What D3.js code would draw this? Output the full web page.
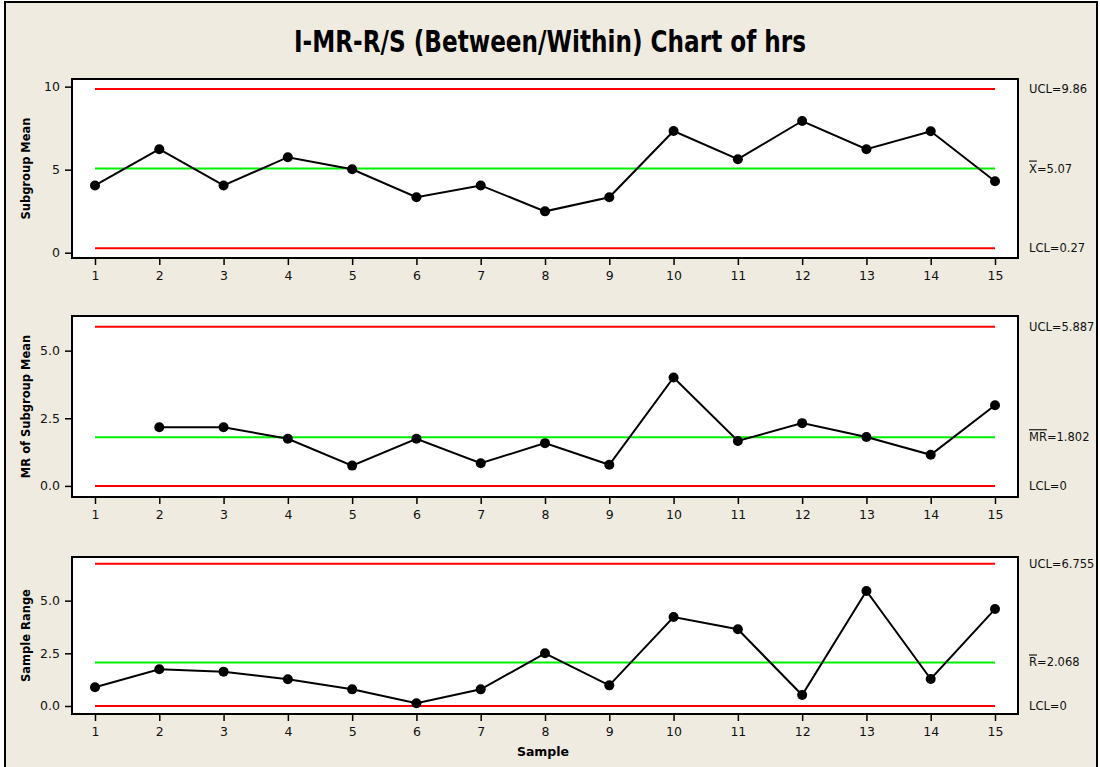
<!DOCTYPE html>
<html>
<head>
<meta charset="utf-8">
<script src="https://cdn.jsdelivr.net/npm/d3@7"></script>
<style>
  body { margin: 0; background: #fff; }
  svg { display: block; font-family: "DejaVu Sans", Verdana, sans-serif; }
  .tick line { stroke: #000; stroke-width: 1.5; }
  .ylab { font-size: 11.5px; font-weight: bold; }
  .lim { font-size: 11.5px; fill: #111; }
</style>
</head>
<body>
<svg width="1100" height="767"></svg>
<script>
var svg = d3.select("svg"),
    width = +svg.attr("width"),
    height = +svg.attr("height");

// sample numbers (x tick labels)
var samples = [1, 2, 3, 4, 5, 6, 7, 8, 9, 10, 11, 12, 13, 14, 15];

// values
var subgroupMean = [4.05, 6.23, 4.05, 5.75, 5.02, 3.34, 4.05, 2.49, 3.34, 7.33, 5.63, 7.93, 6.23, 7.31, 4.30];
var mrMean = [null, 2.17, 2.17, 1.74, 0.75, 1.74, 0.84, 1.58, 0.78, 4.01, 1.66, 2.32, 1.81, 1.15, 2.98];
var sampleRange = [0.89, 1.74, 1.63, 1.27, 0.79, 0.13, 0.79, 2.50, 0.98, 4.22, 3.64, 0.52, 5.46, 1.28, 4.60];

// control limits [UCL, CL, LCL]
var limMean = [9.86, 5.07, 0.27];
var limMR = [5.887, 1.802, 0];
var limRange = [6.755, 2.068, 0];

var ticksMean = [0, 5, 10];
var ticksMR = [0, 2.5, 5];
var ticksRange = [0, 2.5, 5];

var left = 72, right = 1018;

var x = d3.scaleLinear().domain([1, 15]).range([95, 995]);

// background + frame
svg.append("rect").attr("x", 5).attr("y", 2).attr("width", 1092).attr("height", 800)
    .attr("fill", "#efebe0").attr("stroke", "#000").attr("stroke-width", 2);

svg.append("text")
    .attr("x", 550).attr("y", 52)
    .attr("text-anchor", "middle")
    .attr("font-size", "30px")
    .attr("font-weight", "bold")
    .attr("textLength", 512)
    .attr("lengthAdjust", "spacingAndGlyphs")
    .text("I-MR-R/S (Between/Within) Chart of hrs");

var panels = [
    { top: 79, bottom: 258, domain: [-0.32, 10.46], values: subgroupMean, lims: limMean,
      ticks: ticksMean, fmt: d3.format("d"), label: "Subgroup Mean",
      names: [["UCL=9.86"], ["X", "=5.07"], ["LCL=0.27"]] },
    { top: 316, bottom: 497, domain: [-0.41, 6.28], values: mrMean, lims: limMR,
      ticks: ticksMR, fmt: d3.format(".1f"), label: "MR of Subgroup Mean",
      names: [["UCL=5.887"], ["MR", "=1.802"], ["LCL=0"]] },
    { top: 557, bottom: 714, domain: [-0.38, 7.07], values: sampleRange, lims: limRange,
      ticks: ticksRange, fmt: d3.format(".1f"), label: "Sample Range",
      names: [["UCL=6.755"], ["R", "=2.068"], ["LCL=0"]] }
];

panels.forEach(function(p) {
    var y = d3.scaleLinear().domain(p.domain).range([p.bottom, p.top]);
    var g = svg.append("g");

    g.append("rect")
        .attr("x", left).attr("y", p.top)
        .attr("width", right - left).attr("height", p.bottom - p.top)
        .attr("fill", "#fff").attr("stroke", "#000").attr("stroke-width", 2);

    // y axis
    var ya = g.append("g").attr("transform", "translate(" + left + ",0)")
        .call(d3.axisLeft(y).tickValues(p.ticks).tickFormat(p.fmt).tickSize(7).tickPadding(5).tickSizeOuter(0));
    ya.select(".domain").remove();

    // x axis
    var xa = g.append("g").attr("transform", "translate(0," + p.bottom + ")")
        .call(d3.axisBottom(x).tickValues(samples).tickFormat(d3.format("d")).tickSize(7).tickPadding(6).tickSizeOuter(0));
    xa.select(".domain").remove();
    xa.selectAll(".tick line").attr("stroke-width", 2);

    [ya, xa].forEach(function(a) {
        a.attr("font-size", 12.5).attr("font-family", "DejaVu Sans, Verdana, sans-serif");
        a.selectAll(".tick text").attr("fill", "#111");
    });

    // control limit lines
    var colors = ["#ff0000", "#00ee00", "#ff0000"];
    g.selectAll(".lim-line")
        .data(p.lims)
        .enter().append("line")
        .attr("x1", x(1)).attr("x2", x(15))
        .attr("y1", function(d) { return y(d); })
        .attr("y2", function(d) { return y(d); })
        .attr("stroke", function(d, i) { return colors[i]; })
        .attr("stroke-width", 2);

    // limit labels on the right
    p.lims.forEach(function(v, i) {
        var t = g.append("text").attr("class", "lim")
            .attr("x", 1029).attr("y", y(v)).attr("dy", "0.35em");
        if (p.names[i].length > 1) {
            t.append("tspan").style("text-decoration", "overline").text(p.names[i][0]);
            t.append("tspan").text(p.names[i][1]);
        } else {
            t.text(p.names[i][0]);
        }
    });

    // series
    var pts = p.values.map(function(v, i) { return { s: samples[i], v: v }; })
        .filter(function(d) { return d.v != null; });

    var line = d3.line()
        .x(function(d) { return x(d.s); })
        .y(function(d) { return y(d.v); });

    g.append("path")
        .datum(pts)
        .attr("d", line)
        .attr("fill", "none")
        .attr("stroke", "#000")
        .attr("stroke-width", 2);

    g.selectAll(".pt")
        .data(pts)
        .enter().append("circle")
        .attr("cx", function(d) { return x(d.s); })
        .attr("cy", function(d) { return y(d.v); })
        .attr("r", 5)
        .attr("fill", "#000");

    g.append("text")
        .attr("class", "ylab")
        .attr("transform", "translate(30," + ((p.top + p.bottom) / 2) + ") rotate(-90)")
        .attr("text-anchor", "middle")
        .text(p.label);
});

svg.append("text")
    .attr("x", 543).attr("y", 756)
    .attr("text-anchor", "middle")
    .attr("font-size", "12.5px")
    .attr("font-weight", "bold")
    .text("Sample");
</script>
</body>
</html>
